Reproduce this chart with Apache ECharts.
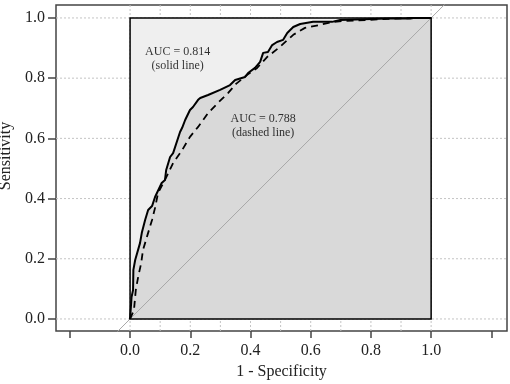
<!DOCTYPE html>
<html>
<head>
<meta charset="utf-8">
<script src="https://cdn.jsdelivr.net/npm/echarts@6/dist/echarts.min.js"></script>
<style>
  html, body { margin: 0; padding: 0; background: #fff; }
  #chart { width: 510px; height: 384px; }
</style>
</head>
<body>
<div id="chart"></div>
<script>
// ROC curve points [1 - specificity, sensitivity]
const solidCurve = [
  [0, 0], [0.003, 0.003], [0.005, 0.073], [0.01, 0.096], [0.011, 0.163], [0.017, 0.196],
  [0.033, 0.252], [0.039, 0.286], [0.05, 0.329], [0.06, 0.362], [0.073, 0.375], [0.083, 0.405],
  [0.105, 0.452], [0.116, 0.462], [0.12, 0.495], [0.133, 0.538], [0.143, 0.551], [0.166, 0.621],
  [0.173, 0.635], [0.183, 0.661], [0.199, 0.694], [0.209, 0.704], [0.226, 0.728], [0.233, 0.734],
  [0.259, 0.744], [0.299, 0.761], [0.332, 0.777], [0.349, 0.794], [0.382, 0.804], [0.392, 0.817],
  [0.415, 0.834], [0.432, 0.854], [0.442, 0.884], [0.458, 0.887], [0.472, 0.91], [0.488, 0.92],
  [0.508, 0.927], [0.522, 0.95], [0.542, 0.97], [0.565, 0.98], [0.608, 0.987], [0.671, 0.987],
  [0.698, 0.993], [0.854, 0.998], [0.93, 0.998], [0.94, 1], [1, 1]
];
const dashedCurve = [
  [0, 0], [0.013, 0.03], [0.019, 0.096], [0.027, 0.14], [0.037, 0.186], [0.043, 0.229],
  [0.06, 0.286], [0.073, 0.329], [0.083, 0.369], [0.093, 0.419], [0.116, 0.462], [0.143, 0.518],
  [0.173, 0.561], [0.199, 0.605], [0.226, 0.638], [0.259, 0.684], [0.292, 0.718], [0.326, 0.751],
  [0.352, 0.781], [0.389, 0.811], [0.422, 0.834], [0.455, 0.87], [0.498, 0.904], [0.542, 0.944],
  [0.581, 0.967], [0.631, 0.977], [0.674, 0.987], [0.714, 0.99], [0.864, 0.997], [0.947, 1], [1, 1]
];
const xTicks = [-0.2, 0, 0.2, 0.4, 0.6, 0.8, 1.0, 1.2];
const xLabels = [0, 0.2, 0.4, 0.6, 0.8, 1.0];
const yTicks = [0, 0.2, 0.4, 0.6, 0.8, 1.0];
const vGrid = [0, 0.1, 0.2, 0.3, 0.4, 0.5, 0.6, 0.7, 0.8, 0.9, 1.0];
const hGrid = [0, 0.2, 0.4, 0.6, 0.8, 1.0];
const diagonal = [[-0.3, -0.3], [1.3, 1.3]];
const box = [[0, 0], [0, 1], [1, 1], [1, 0]];
const annotations = [
  { pos: [0.158, 0.864], lines: ['AUC = 0.814', '(solid line)'] },
  { pos: [0.442, 0.641], lines: ['AUC = 0.788', '(dashed line)'] }
];

const xMin = -0.246, xMax = 1.252;
const yMin = -0.04, yMax = 1.043;
const serif = 'Liberation Serif';
const chart = echarts.init(document.getElementById('chart'));

function polygonSeries(points, fill, stroke, z) {
  return {
    type: 'custom',
    z: z,
    silent: true,
    data: [0],
    renderItem: function (params, api) {
      return {
        type: 'polygon',
        shape: { points: points.map(p => api.coord(p)) },
        style: stroke
          ? { fill: 'none', stroke: stroke, lineWidth: 1.5 }
          : { fill: fill }
      };
    }
  };
}

// dotted reference lines: vertical at vGrid, horizontal at hGrid
const gridItems = vGrid.map(v => ['v', v]).concat(hGrid.map(v => ['h', v]));

chart.setOption({
  animation: false,
  grid: {
    left: 56, right: 3, top: 5, bottom: 53,
    outerBoundsMode: 'none',
    containLabel: false,
    show: true, borderColor: '#444', borderWidth: 1.5, backgroundColor: 'transparent'
  },
  xAxis: {
    type: 'value',
    min: xMin, max: xMax,
    name: '1 - Specificity',
    nameLocation: 'middle',
    nameGap: 31,
    nameTextStyle: { fontFamily: serif, fontSize: 16, color: '#222' },
    axisLine: { show: false, onZero: false },
    axisTick: { show: true, length: 7, customValues: xTicks, lineStyle: { color: '#444', width: 1.5 } },
    axisLabel: {
      customValues: xLabels, margin: 12,
      fontFamily: serif, fontSize: 16, color: '#222',
      formatter: v => v.toFixed(1)
    },
    splitLine: { show: false }
  },
  yAxis: {
    type: 'value',
    min: yMin, max: yMax,
    name: 'Sensitivity',
    nameLocation: 'middle',
    nameGap: 35,
    nameTextStyle: { fontFamily: serif, fontSize: 16, color: '#222', padding: [0, 0, 0, 24] },
    axisLine: { show: false, onZero: false },
    axisTick: { show: true, length: 8, customValues: yTicks, lineStyle: { color: '#444', width: 1.5 } },
    axisLabel: {
      customValues: yTicks, margin: 11,
      fontFamily: serif, fontSize: 16, color: '#222',
      formatter: v => v.toFixed(1)
    },
    splitLine: { show: false }
  },
  series: [
    {
      type: 'custom',
      z: 1,
      silent: true,
      data: gridItems.map((g, i) => i),
      renderItem: function (params, api) {
        const g = gridItems[params.dataIndex];
        const a = g[0] === 'v' ? api.coord([g[1], yMin]) : api.coord([xMin, g[1]]);
        const b = g[0] === 'v' ? api.coord([g[1], yMax]) : api.coord([xMax, g[1]]);
        return {
          type: 'line',
          shape: { x1: a[0], y1: a[1], x2: b[0], y2: b[1] },
          style: { stroke: '#c4c4c4', lineWidth: 1, lineDash: [2, 2] }
        };
      }
    },
    polygonSeries(box, '#efefef', null, 2),
    polygonSeries(solidCurve.concat([[1, 0]]), '#d9d9d9', null, 3),
    {
      type: 'line',
      data: diagonal,
      z: 4,
      silent: true,
      symbol: 'none',
      clip: true,
      lineStyle: { color: '#a8a8a8', width: 1 }
    },
    {
      type: 'line',
      data: dashedCurve,
      z: 5,
      symbol: 'none',
      lineStyle: { color: '#000', width: 1.8, type: [7, 5] }
    },
    {
      type: 'line',
      data: solidCurve,
      z: 6,
      symbol: 'none',
      lineStyle: { color: '#000', width: 2 }
    },
    polygonSeries(box, null, '#000', 7),
    {
      type: 'scatter',
      z: 8,
      symbolSize: 0,
      silent: true,
      data: annotations.map(a => ({ value: a.pos, lines: a.lines })),
      label: {
        show: true,
        position: 'inside',
        fontFamily: serif,
        fontSize: 12,
        lineHeight: 14,
        color: '#000',
        align: 'center',
        formatter: p => p.data.lines.join('\n')
      }
    }
  ]
});
</script>
</body>
</html>
